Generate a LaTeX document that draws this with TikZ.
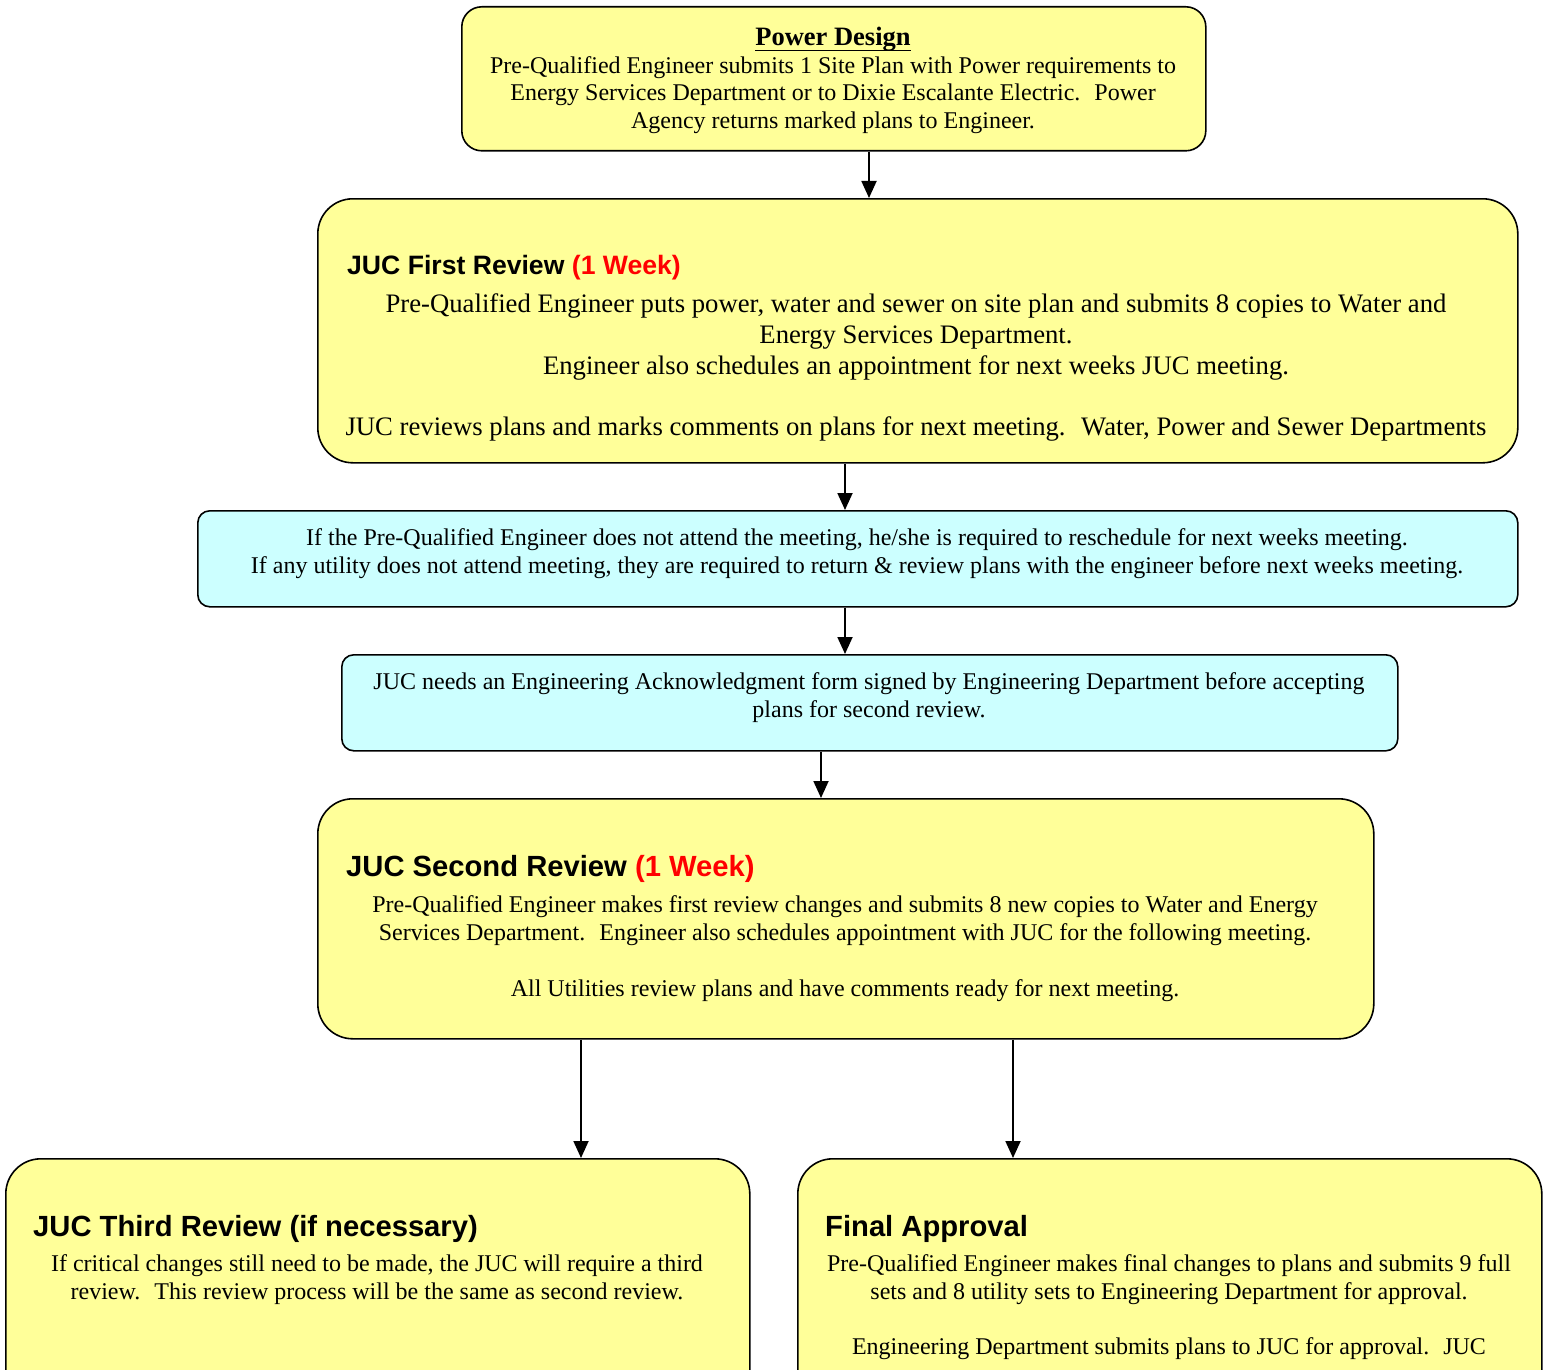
\documentclass[tikz,border=0pt]{standalone}
\usepackage{fontspec}
\setmainfont{Liberation Serif}
\newfontfamily\arialf{Liberation Sans}
\usetikzlibrary{arrows.meta}
\definecolor{boxyellow}{HTML}{FFFF99}
\definecolor{boxcyan}{HTML}{CCFFFF}
\definecolor{weekred}{HTML}{FF0000}
\tikzset{
  ybox/.style={draw=black, line width=1.6pt, fill=boxyellow, inner sep=0pt, anchor=north west},
  cbox/.style={draw=black, line width=1.6pt, fill=boxcyan, inner sep=0pt, anchor=north west, rounded corners=12pt},
  arr/.style={draw=black, line width=1.8pt, -{Triangle[width=15pt,length=17pt]}},
  txt/.style={inner sep=0pt, anchor=base, text=black},
  headtxt/.style={inner sep=0pt, anchor=base west, text=black, font=\arialf\bfseries\fontsize{29.2}{33}\selectfont},
}
\begin{document}
\begin{tikzpicture}[x=1pt, y=-1pt]
\useasboundingbox (0,0) rectangle (1548,1370);
\clip (0,0) rectangle (1548,1370);

% boxes
\node[ybox, rounded corners=20pt, minimum width=744pt, minimum height=144pt] (b1) at (461,6) {};
\node[ybox, rounded corners=35pt, minimum width=1200pt, minimum height=264pt] (b2) at (317,198) {};
\node[cbox, minimum width=1320pt, minimum height=96pt] (b3) at (197,510) {};
\node[cbox, minimum width=1056pt, minimum height=96pt] (b4) at (341,654) {};
\node[ybox, rounded corners=35pt, minimum width=1056pt, minimum height=240pt] (b5) at (317,798) {};
\node[ybox, rounded corners=35pt, minimum width=744pt, minimum height=300pt] (b6) at (5,1158) {};
\node[ybox, rounded corners=35pt, minimum width=744pt, minimum height=300pt] (b7) at (797,1158) {};

% arrow columns
\coordinate (ax1) at (869,0);
\coordinate (ax2) at (845,0);
\coordinate (ax3) at (821,0);
\coordinate (ax4) at (581,0);
\coordinate (ax5) at (1013,0);
\draw[arr] (b1.south -| ax1) -- (b2.north -| ax1);
\draw[arr] (b2.south -| ax2) -- (b3.north -| ax2);
\draw[arr] (b3.south -| ax2) -- (b4.north -| ax2);
\draw[arr] (b4.south -| ax3) -- (b5.north -| ax3);
\draw[arr] (b5.south -| ax4) -- (b6.north -| ax4);
\draw[arr] (b5.south -| ax5) -- (b7.north -| ax5);

% Box 1 text
\begin{scope}[every node/.append style={font=\fontsize{24}{27}\selectfont}]
\node[txt, font=\bfseries\fontsize{26.5}{30}\selectfont] (pd) at (833,46) {Power Design};
\draw[line width=1.8pt] ([yshift=-4.5pt]pd.base west) -- ([yshift=-4.5pt]pd.base east);
\node[txt] (t1a) at (833,74) {Pre-Qualified Engineer submits 1 Site Plan with Power requirements to};
\node[txt] (t1b) at (833,101) {Energy Services Department or to Dixie Escalante Electric.~ Power};
\node[txt] (t1c) at (833,129) {Agency returns marked plans to Engineer.};
\end{scope}

% Box 2 text
\node[headtxt, font=\arialf\bfseries\fontsize{26.6}{30}\selectfont] (h2) at (347,274) {JUC First Review \textcolor{weekred}{(1 Week)}};
\begin{scope}[every node/.append style={font=\fontsize{26.7}{30}\selectfont}]
\node[txt] (t2a) at (916,312) {Pre-Qualified Engineer puts power, water and sewer on site plan and submits 8 copies to Water and};
\node[txt] (t2b) at (916,343) {Energy Services Department.};
\node[txt] (t2c) at (916,374) {Engineer also schedules an appointment for next weeks JUC meeting.};
\node[txt] (t2d) at (916,435) {JUC reviews plans and marks comments on plans for next meeting.~ Water, Power and Sewer Departments};
\end{scope}

% Box 3 text
\begin{scope}[every node/.append style={font=\fontsize{24}{28}\selectfont}]
\node[txt] (t3a) at (857,545) {If the Pre-Qualified Engineer does not attend the meeting, he/she is required to reschedule for next weeks meeting.};
\node[txt] (t3b) at (857,573) {If any utility does not attend meeting, they are required to return \& review plans with the engineer before next weeks meeting.};
\end{scope}

% Box 4 text
\begin{scope}[every node/.append style={font=\fontsize{24}{28}\selectfont}]
\node[txt] (t4a) at (869,689) {JUC needs an Engineering Acknowledgment form signed by Engineering Department before accepting};
\node[txt] (t4b) at (869,717) {plans for second review.};
\end{scope}

% Box 5 text
\node[headtxt] (h5) at (346,876) {JUC Second Review \textcolor{weekred}{(1 Week)}};
\begin{scope}[every node/.append style={font=\fontsize{24}{28}\selectfont}]
\node[txt] (t5a) at (845,912) {Pre-Qualified Engineer makes first review changes and submits 8 new copies to Water and Energy};
\node[txt] (t5b) at (845,940) {Services Department.~ Engineer also schedules appointment with JUC for the following meeting.};
\node[txt] (t5c) at (845,996) {All Utilities review plans and have comments ready for next meeting.};
\end{scope}

% Box 6 text
\node[headtxt] (h6) at (33,1236) {JUC Third Review (if necessary)};
\begin{scope}[every node/.append style={font=\fontsize{24}{28}\selectfont}]
\node[txt] (t6a) at (377,1271) {If critical changes still need to be made, the JUC will require a third};
\node[txt] (t6b) at (377,1299) {review.~ This review process will be the same as second review.};
\end{scope}

% Box 7 text
\node[headtxt] (h7) at (825,1236) {Final Approval};
\begin{scope}[every node/.append style={font=\fontsize{24}{28}\selectfont}]
\node[txt] (t7a) at (1169,1271) {Pre-Qualified Engineer makes final changes to plans and submits 9 full};
\node[txt] (t7b) at (1169,1299) {sets and 8 utility sets to Engineering Department for approval.};
\node[txt] (t7c) at (1169,1354) {Engineering Department submits plans to JUC for approval.~ JUC};
\end{scope}
\end{tikzpicture}
\end{document}
